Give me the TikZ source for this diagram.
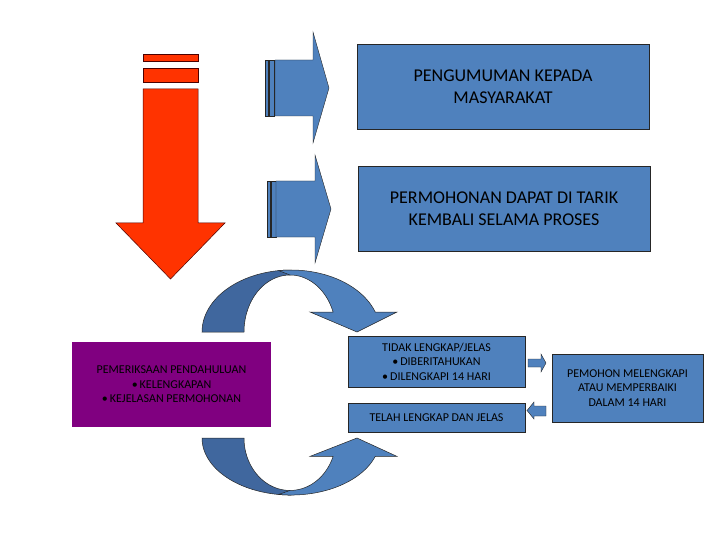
\documentclass[tikz,border=0pt]{standalone}
\usepackage{fontspec}
\setmainfont{Carlito}
\definecolor{boxblue}{RGB}{79,129,189}
\definecolor{curvedark}{RGB}{64,103,158}
\definecolor{arrowred}{RGB}{255,51,0}
\definecolor{purplebox}{RGB}{128,0,128}
\newcommand\curvarrow[2]{%
  \filldraw[curveshape, fill=curvedark]
    plot[domain=180:270,samples=40] ({291+89*cos(\x)},{#1+#2*62*sin(\x)})
    -- plot[domain=270:180,samples=40] ({290+46*cos(\x)},{#1+#2*57*sin(\x)})
    -- cycle;
  \filldraw[curveshape, fill=boxblue]
    plot[domain=262:341.2,samples=40] ({291+89*cos(\x)},{#1+#2*62*sin(\x)})
    -- ({397},{#1-#2*20}) -- ({357},{#1}) -- ({310},{#1-#2*20})
    -- plot[domain=339.5:270,samples=40] ({290+46*cos(\x)},{#1+#2*57*sin(\x)})
    -- cycle;
}
\begin{document}
\begin{tikzpicture}[x=1pt,y=-1pt,
  bigbox/.style={draw=black!85, line width=0.6pt, fill=boxblue, minimum width=292pt,
    minimum height=85pt, inner sep=0pt, align=center, text=black,
    font=\fontsize{18}{22}\selectfont},
  smallbox/.style={draw=black!85, line width=0.6pt, fill=boxblue, inner sep=0pt,
    align=center, text=black, font=\fontsize{12}{14.5}\selectfont},
  blockblue/.style={draw=black!85, line width=0.4pt, fill=boxblue},
  blockred/.style={draw=black!70!red, line width=0.5pt, fill=arrowred},
  curveshape/.style={draw=black!85, line width=0.5pt}]
\useasboundingbox (0,0) rectangle (720,540);

% red striped down arrow
\path[blockred] (143,54) rectangle (198,61);
\path[blockred] (143,68) rectangle (198,82);
\path[blockred] (143,89) -- (198,89) -- (198,223) -- (225,223) -- (170.5,279)
  -- (116,223) -- (143,223) -- cycle;

% striped right arrows
\path[blockblue] (265,60) rectangle (268,116);
\path[blockblue] (269.5,60) rectangle (274,116);
\path[blockblue] (275,60) -- (313,60) -- (313,32) -- (329,88) -- (313,143)
  -- (313,116) -- (275,116) -- cycle;
\path[blockblue] (267,181) rectangle (270,237);
\path[blockblue] (271.5,181) rectangle (276,237);
\path[blockblue] (276,181) -- (315,181) -- (315,155) -- (331,209) -- (315,263)
  -- (315,237) -- (276,237) -- cycle;

% boxes
\node[bigbox] (umum) at (503,86.5) {PENGUMUMAN KEPADA\\MASYARAKAT};
\node[bigbox] (tarik) at (504,208.5) {PERMOHONAN DAPAT DI TARIK\\KEMBALI SELAMA PROSES};
\node[smallbox, draw=none, fill=purplebox, minimum width=199pt, minimum height=85pt]
  (periksa) at (171.5,384.5) {PEMERIKSAAN PENDAHULUAN\\•\,KELENGKAPAN\\•\,KEJELASAN PERMOHONAN};
\node[smallbox, minimum width=177pt, minimum height=51pt] (tidak) at (436.5,361.5)
  {TIDAK LENGKAP/JELAS\\•\,DIBERITAHUKAN\\•\,DILENGKAPI 14 HARI};
\node[smallbox, minimum width=177pt, minimum height=29pt] (telah) at (436.5,417.5)
  {TELAH LENGKAP DAN JELAS};
\node[smallbox, minimum width=151pt, minimum height=68pt] (pemohon) at (627.5,388)
  {PEMOHON MELENGKAPI\\ATAU MEMPERBAIKI\\DALAM 14 HARI};

% small block arrows
\path[blockblue] (528,359) -- (541,359) -- (541,354) -- (546,363) -- (541,372)
  -- (541,367) -- (528,367) -- cycle;
\path[blockblue] (546,406) -- (534,406) -- (534,402) -- (527,410.5) -- (534,419)
  -- (534,416) -- (546,416) -- cycle;

% curved arrows
\curvarrow{332}{1}
\curvarrow{438}{-0.92}
\end{tikzpicture}
\end{document}
